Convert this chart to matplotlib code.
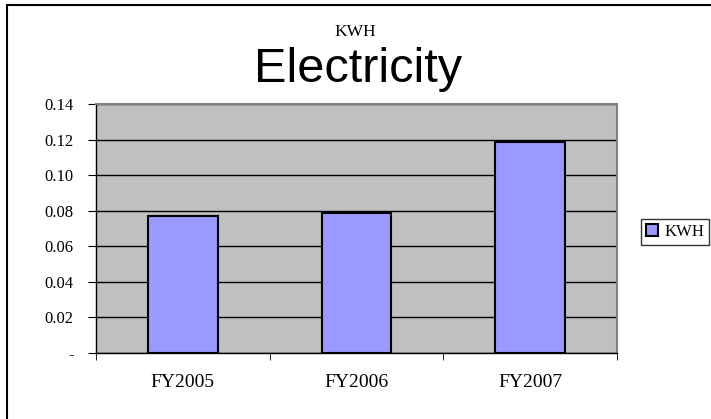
import matplotlib
matplotlib.use("Agg")
import matplotlib.pyplot as plt
from matplotlib.patches import Rectangle
from matplotlib.ticker import FixedLocator

# data
years = ["FY2005", "FY2006", "FY2007"]
kwh = [0.077, 0.0785, 0.1185]
yticks = [0, 0.02, 0.04, 0.06, 0.08, 0.10, 0.12, 0.14]
ytick_labels = ["-", "0.02", "0.04", "0.06", "0.08", "0.10", "0.12", "0.14"]

serif = ["Liberation Serif", "DejaVu Serif"]
sans = ["Liberation Sans", "DejaVu Sans"]

fig = plt.figure(figsize=(7.11, 4.19), dpi=100)
fig.patch.set_facecolor("white")

# outer chart frame
fig.patches.append(Rectangle((7 / 711, -0.05), 1.1, 1 - 5 / 419 + 0.05,
                             transform=fig.transFigure, fill=False,
                             edgecolor="black", linewidth=1.5))
# faint striped strip left of the frame
fig.patches.append(Rectangle((0, 0), 6 / 711, 1, transform=fig.transFigure,
                             facecolor="white", edgecolor="none",
                             hatch="---", zorder=0))
fig.patches[-1].set_hatch_color("#dddddd") if hasattr(fig.patches[-1], "set_hatch_color") else None

ax = fig.add_axes([96 / 711, 66 / 419, 521 / 711, 249 / 419])
ax.set_facecolor("#c0c0c0")

x = range(len(years))
ax.bar(x, kwh, width=0.40, color="#9999ff", edgecolor="black",
       linewidth=1.5, label="KWH", zorder=3)

ax.set_xlim(-0.5, 2.5)
ax.set_ylim(0, 0.14)
ax.set_yticks(yticks)
ax.set_yticklabels(ytick_labels, fontfamily=serif, fontsize=12)
ax.yaxis.grid(True, color="black", linewidth=1.0, zorder=1)
ax.set_axisbelow(True)

# category labels centred, ticks at category boundaries
ax.set_xticks(list(x))
ax.set_xticklabels(years, fontfamily=serif, fontsize=14)
ax.tick_params(axis="x", length=0, pad=15)
ax.xaxis.set_minor_locator(FixedLocator([-0.5, 0.5, 1.5, 2.5]))
ax.tick_params(axis="x", which="minor", length=5, direction="out", color="black")
ax.tick_params(axis="y", length=6, direction="out", color="black", pad=10)

for s in ["top", "right"]:
    ax.spines[s].set_color("#808080")
    ax.spines[s].set_linewidth(1.5)
for s in ["left", "bottom"]:
    ax.spines[s].set_color("black")
    ax.spines[s].set_linewidth(1.0)

fig.text(0.5, (419 - 36) / 419, "KWH", ha="center", va="baseline",
         fontfamily=serif, fontsize=12.5)
fig.text(358 / 711, (419 - 82) / 419, "Electricity", ha="center", va="baseline",
         fontfamily=sans, fontsize=35)

leg = fig.legend(loc="center left", bbox_to_anchor=(641 / 711, (419 - 232) / 419),
                 prop={"family": serif, "size": 12}, frameon=True, fancybox=False,
                 edgecolor="black", handlelength=0.7, handleheight=0.7,
                 handletextpad=0.4, borderpad=0.3, borderaxespad=0)
leg.get_frame().set_linewidth(1.0)

fig.savefig("out.png", dpi=100)
